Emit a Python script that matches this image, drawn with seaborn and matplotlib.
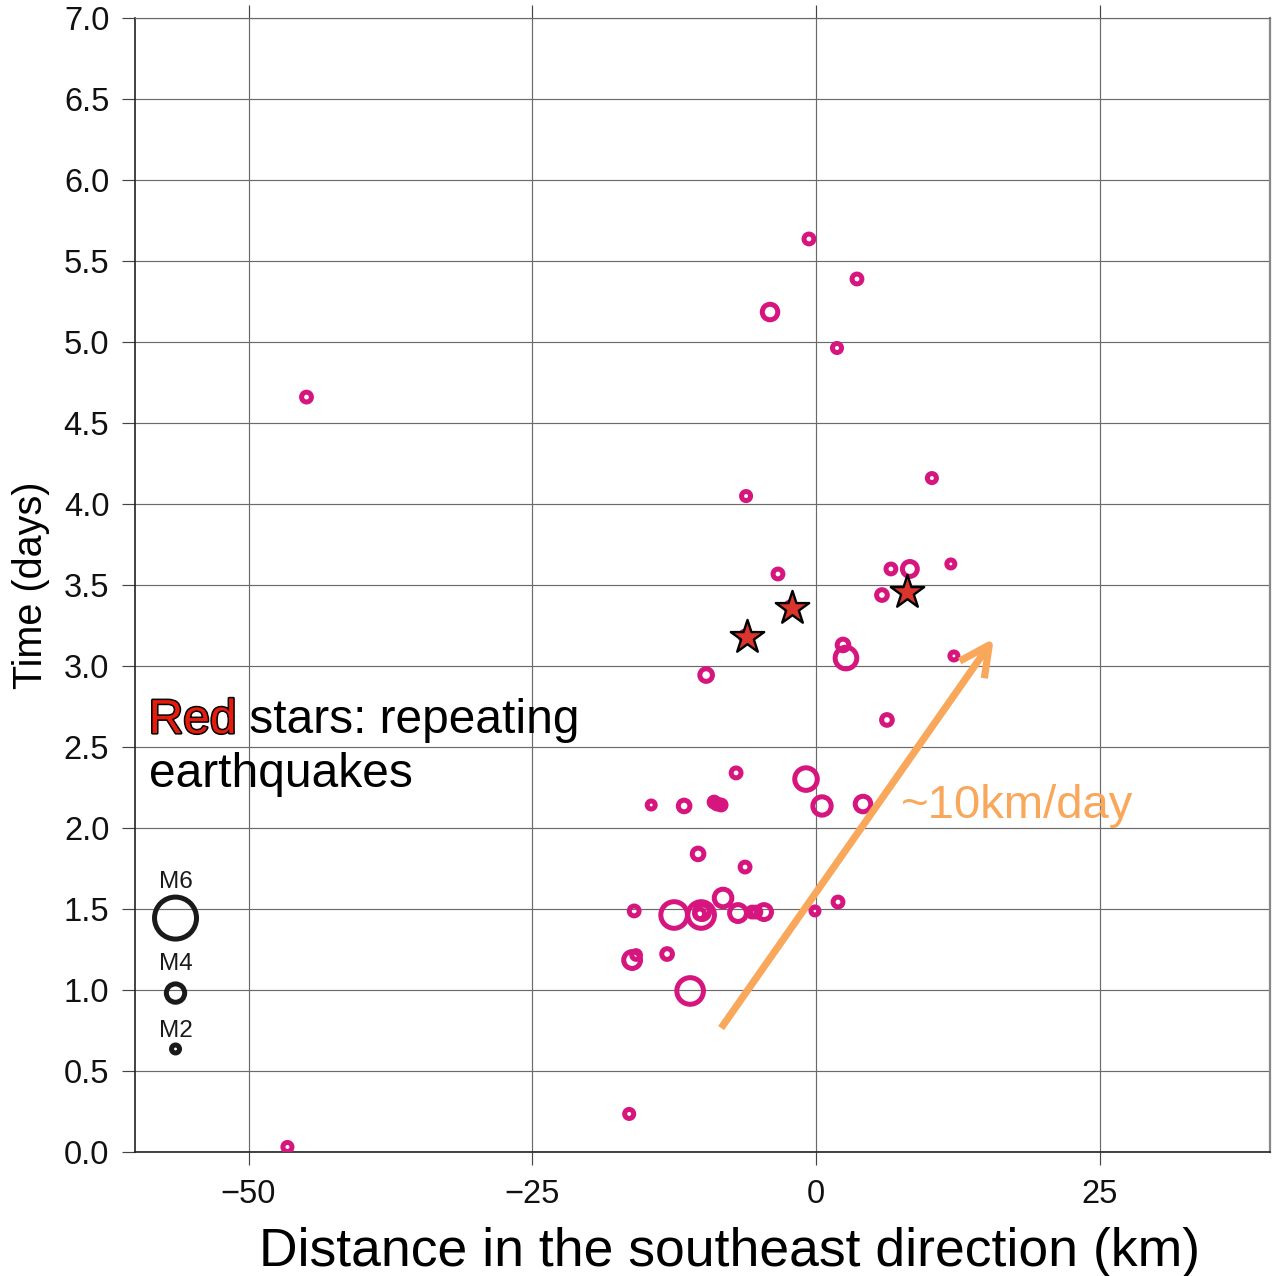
import numpy as np
import pandas as pd
import matplotlib
matplotlib.use("Agg")
import matplotlib.pyplot as plt
import matplotlib.patheffects as pe
import seaborn as sns

# ---- data ----
dist_km = [-0.62, 3.61, -4.05, 1.85, -44.89, 10.21, -6.16, -3.35, 6.60, 8.27,
           11.88, 5.81, 2.38, 2.64, 12.15, -9.68, 6.25, -7.04, -0.88, 0.53,
           4.14, -14.52, -11.62, -8.98, -8.71, -8.36, -10.39, -6.25, -16.02, -12.50,
           -10.12, -10.04, -10.25, -8.19, -6.87, -5.63, -5.30, -4.58, -0.09, 1.94,
           -13.12, -16.20, -15.85, -11.09, -16.46, -46.57, -6.25, -2.25]
time_days = [5.636, 5.389, 5.185, 4.963, 4.660, 4.160, 4.049, 3.568, 3.599, 3.599,
             3.630, 3.438, 3.130, 3.049, 3.062, 2.944, 2.667, 2.340, 2.302, 2.136,
             2.148, 2.142, 2.136, 2.160, 2.148, 2.142, 1.840, 1.759, 1.488, 1.463,
             1.463, 1.481, 1.470, 1.568, 1.475, 1.481, 1.481, 1.481, 1.488, 1.543,
             1.222, 1.185, 1.216, 0.994, 0.235, 0.031, 3.185, 3.365]
magnitude = [2.5, 2.5, 3.6, 2.3, 2.5, 2.3, 2.3, 2.5, 2.5, 3.5,
             2.0, 2.7, 2.9, 4.4, 2.0, 3.1, 2.7, 2.5, 4.5, 4.0,
             3.6, 2.0, 2.9, 2.5, 2.5, 2.5, 2.9, 2.5, 2.5, 4.9,
             4.9, 3.5, 2.5, 3.9, 3.8, 2.5, 2.5, 3.5, 2.0, 2.5,
             2.7, 3.8, 2.2, 4.9, 2.3, 2.3, 2.5, 2.5]

star_dist = [-6.07, -2.11, 8.01]
star_time = [3.179, 3.358, 3.457]

legend_mags = [6, 4, 2]
legend_labels = ["M6", "M4", "M2"]
legend_time = [1.444, 0.981, 0.636]
legend_label_time = [1.63, 1.123, 0.710]
legend_x = -56.43

arrow_start = (-8.36, 0.765)
arrow_end = (15.67, 3.17)

x_ticks = [-50, -25, 0, 25]
y_ticks = [0.0, 0.5, 1.0, 1.5, 2.0, 2.5, 3.0, 3.5, 4.0, 4.5, 5.0, 5.5, 6.0, 6.5, 7.0]

MAGENTA = "#d6157f"
ORANGE = "#f9a75b"
STAR_RED = "#d9352c"
LW_RING = 3.6


def mag_to_area(m):
    d_px = 8.0 * 10 ** (0.18 * (np.asarray(m, dtype=float) - 2.0))
    d_pt = d_px * 72.0 / 100.0
    return d_pt ** 2


sns.set_style("white")
plt.rcParams["font.family"] = ["Liberation Sans", "DejaVu Sans"]
plt.rcParams["axes.unicode_minus"] = True

fig = plt.figure(figsize=(12.72, 12.76), dpi=100)
ax = fig.add_axes([135 / 1272, 1 - 1152 / 1276, (1270 - 135) / 1272, (1152 - 18) / 1276])

df = pd.DataFrame({"dist": dist_km, "time": time_days, "mag": magnitude})
df["area"] = mag_to_area(df["mag"])
amin, amax = df["area"].min(), df["area"].max()

sns.scatterplot(data=df, x="dist", y="time", size="area", sizes=(amin, amax),
                size_norm=(amin, amax), marker="o", facecolor="none",
                edgecolor=MAGENTA, linewidth=LW_RING, legend=False, ax=ax, zorder=3)

sdf = pd.DataFrame({"dist": star_dist, "time": star_time})
sns.scatterplot(data=sdf, x="dist", y="time", marker="*", s=640, color=STAR_RED,
                edgecolor="black", linewidth=1.7, legend=False, ax=ax, zorder=4)

ldf = pd.DataFrame({"dist": [legend_x] * 3, "time": legend_time, "mag": legend_mags})
ldf["area"] = mag_to_area(ldf["mag"])
ax.scatter(ldf["dist"], ldf["time"], s=ldf["area"], facecolor="none",
           edgecolor="#1a1a1a", linewidth=LW_RING, zorder=3)
for lab, ty in zip(legend_labels, legend_label_time):
    ax.text(legend_x, ty, lab, ha="center", va="baseline", fontsize=17.5, color="#1a1a1a")

# arrow and annotations
ax.annotate("", xy=arrow_end, xytext=arrow_start,
            arrowprops=dict(arrowstyle="->,head_length=0.4,head_width=0.2",
                            color=ORANGE, lw=5.2, mutation_scale=54,
                            shrinkA=0, shrinkB=0, capstyle="butt"), zorder=5)
ax.text(7.45, 2.062, "~10km/day", color=ORANGE, fontsize=34, ha="left", va="baseline", zorder=5)

red_txt = ax.text(-58.8, 2.586, "Red", color="#e41c0e", fontsize=34.5, ha="left",
                  va="baseline", zorder=6,
                  path_effects=[pe.Stroke(linewidth=2.2, foreground="black"), pe.Normal()])
ax.annotate(" stars: repeating", xy=(1, 0), xycoords=red_txt, ha="left", va="bottom",
            color="black", fontsize=34.5, zorder=5)
ax.text(-58.8, 2.253, "earthquakes", color="black", fontsize=34.5, ha="left", va="baseline", zorder=5)

# axes styling
ax.set_xlim(-60, 40)
ax.set_ylim(0, 7)
ax.set_xticks(x_ticks)
ax.set_yticks(y_ticks)
ax.set_yticklabels([f"{v:.1f}" for v in y_ticks])
ax.set_xticklabels([f"{v}".replace("-", "\u2212") for v in x_ticks])
ax.grid(True, color="#6a6a6a", linewidth=0.85)
ax.set_axisbelow(True)
ax.tick_params(axis="both", direction="out", length=9.5, width=0.85, color="#444444",
               labelsize=23.5, labelcolor="#111111")
ax.tick_params(axis="x", top=True, bottom=True, pad=10)
ax.tick_params(axis="y", left=True, pad=9)
for side in ["left", "bottom"]:
    ax.spines[side].set_color("#222222")
    ax.spines[side].set_linewidth(1.2)
ax.spines["top"].set_color("#6a6a6a")
ax.spines["top"].set_linewidth(0.85)
ax.spines["right"].set_color("#888888")
ax.spines["right"].set_linewidth(1.6)

ax.set_xlabel("Distance in the southeast direction (km)", fontsize=38.5, color="black")
ax.set_ylabel("Time (days)", fontsize=28.5, color="black", labelpad=10)
ax.xaxis.set_label_coords(0.524, -0.066)

fig.savefig("out.png", dpi=100)
